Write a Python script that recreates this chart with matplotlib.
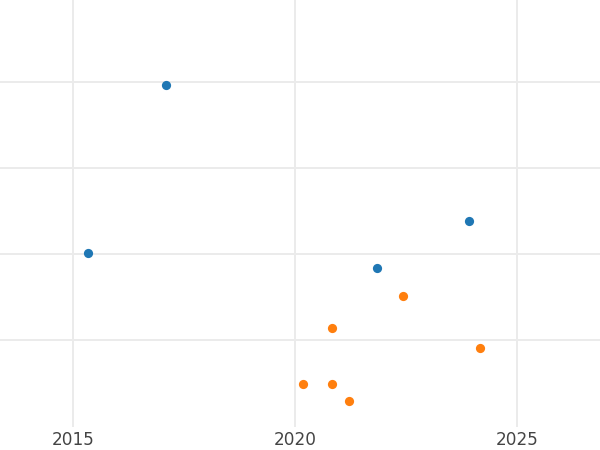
import matplotlib
matplotlib.use("Agg")
import matplotlib.pyplot as plt

# data
blue_x = [2017.09, 2015.34, 2021.85, 2023.92]
blue_y = [3.965, 2.01, 1.835, 2.385]
orange_x = [2022.43, 2020.83, 2024.17, 2020.17, 2020.83, 2021.22]
orange_y = [1.51, 1.14, 0.905, 0.49, 0.49, 0.29]
x_ticks = [2015, 2020, 2025]
y_grid = [1, 2, 3, 4]

fig = plt.figure(figsize=(6, 4.5), dpi=100)
ax = fig.add_axes([0, 1 - 427 / 450, 1, 427 / 450])
ax.set_xlim(2013.356, 2026.87)
ax.set_ylim(-0.01, 4.953)

ax.scatter(blue_x, blue_y, s=44, color="#1f77b4", zorder=3, linewidths=0)
ax.scatter(orange_x, orange_y, s=44, color="#ff7f0e", zorder=3, linewidths=0)

ax.set_xticks(x_ticks)
ax.set_xticklabels([str(t) for t in x_ticks])
ax.set_yticks(y_grid)
ax.set_yticklabels([])
ax.tick_params(axis="both", length=0)
ax.tick_params(axis="x", labelsize=12.2, labelcolor="#444444", pad=3)
ax.grid(True, color="#ebebeb", linewidth=1.4)
ax.set_axisbelow(True)
for s in ax.spines.values():
    s.set_visible(False)

fig.savefig("out.png", dpi=100)
